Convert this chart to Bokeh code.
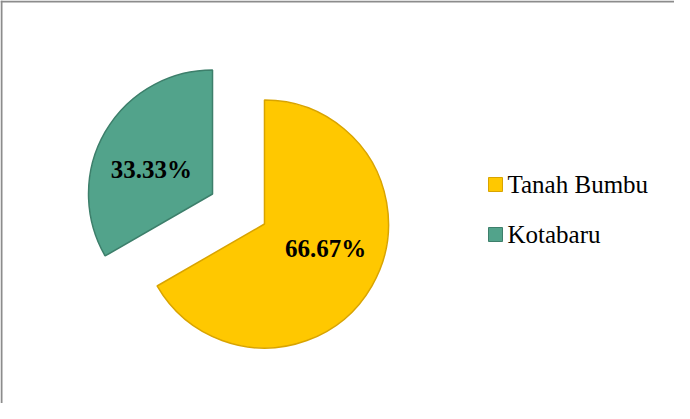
import math
from bokeh.plotting import figure
from bokeh.models import Range1d, Span, ColumnDataSource
from bokeh.core.properties import value
from bokeh.embed import file_html
from bokeh.resources import INLINE

# ---- data ----
categories = ["Tanah Bumbu", "Kotabaru"]
shares = [66.67, 33.33]
labels = ["66.67%", "33.33%"]
colors = ["#FFC800", "#52A38B"]
edge_colors = ["#D9A400", "#3D7F6B"]

# ---- layout ----
W, H = 674, 403
cx, cy = 238, 194.5        # pie centre (data units = pixels)
R = 124                    # radius
explode = 30               # explode distance for each slice
label_dist = 66
label_turn = 8             # degrees

p = figure(width=W, height=H, output_backend="svg", toolbar_location=None,
           x_range=Range1d(0, W), y_range=Range1d(0, H),
           min_border=0, outline_line_color=None)
p.axis.visible = False
p.grid.visible = False
p.background_fill_color = "white"
p.border_fill_color = "white"

total = sum(shares)
start = 90.0
xs, ys, sa, ea, lx, ly = [], [], [], [], [], []
for s in shares:
    sweep = 360.0 * s / total
    end = start - sweep                # clockwise
    mid = math.radians((start + end) / 2)
    ox, oy = cx + explode * math.cos(mid), cy + explode * math.sin(mid)
    xs.append(ox); ys.append(oy)
    sa.append(math.radians(end)); ea.append(math.radians(start))
    lm = mid + math.radians(label_turn)
    lx.append(ox + label_dist * math.cos(lm)); ly.append(oy + label_dist * math.sin(lm))
    start = end

src = ColumnDataSource(dict(x=xs, y=ys, sa=sa, ea=ea, color=colors, edge=edge_colors,
                            lx=lx, ly=ly, label=labels, cat=categories))
p.wedge(x="x", y="y", radius=R, start_angle="sa", end_angle="ea", source=src,
        fill_color="color", line_color="edge", line_width=1.5)
p.text(x="lx", y="ly", text="label", source=src, text_font=value("Liberation Serif"),
       text_font_style="bold", text_font_size="25px", text_align="center",
       text_baseline="middle", text_color="black")

# legend (manual)
leg_x, leg_y0, leg_step = 495, 219, 50
legend_y = [leg_y0 - i * leg_step for i in range(len(categories))]
lsrc = ColumnDataSource(dict(x=[leg_x] * len(categories), tx=[leg_x + 12] * len(categories),
                             y=legend_y, color=colors, edge=edge_colors, cat=categories))
p.rect(x="x", y="y", width=14, height=14, width_units="screen", height_units="screen",
       source=lsrc, fill_color="color", line_color="edge", line_width=1)
p.text(x="tx", y="y", text="cat", source=lsrc, text_font=value("Liberation Serif"),
       text_font_size="25px", text_baseline="middle", text_align="left", text_color="black")

# chart border (only top & left visible in reference)
p.add_layout(Span(location=p.y_range.end - 1, dimension="width", line_color="#8C8C8C", line_width=2))
p.add_layout(Span(location=p.x_range.start + 1, dimension="height", line_color="#8C8C8C", line_width=2))

open("out.html", "w").write(file_html(p, INLINE))
